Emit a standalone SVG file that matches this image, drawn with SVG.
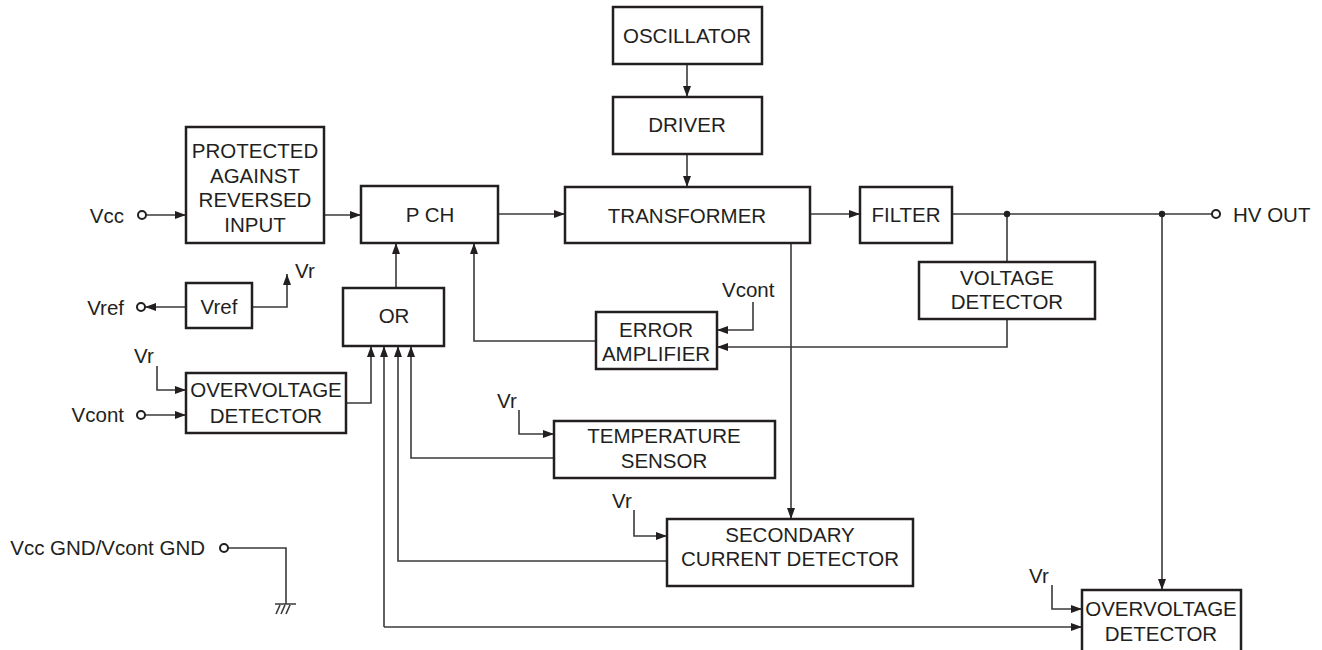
<svg xmlns="http://www.w3.org/2000/svg" width="1322" height="650" viewBox="0 0 1322 650">
<style>
.box{fill:#fff;stroke:#231f20;stroke-width:2.5}
.ln{fill:none;stroke:#3a3a3a;stroke-width:1.6}
.t{font-family:"Liberation Sans",Arial,Helvetica,sans-serif;font-size:20.5px;fill:#231f20}
.c{text-anchor:middle}
.e{text-anchor:end}
.term{fill:#fff;stroke:#231f20;stroke-width:2}
.dot{fill:#231f20}
</style>
<defs>
<marker id="ar" markerUnits="userSpaceOnUse" markerWidth="11" markerHeight="8" refX="11" refY="4" orient="auto">
<path d="M0,0 L11,4 L0,8 z" fill="#231f20"/>
</marker>
</defs>
<rect width="1322" height="650" fill="#fff"/>

<g id="connectors">
<path class="ln" d="M146,215 H186" marker-end="url(#ar)"/>
<path class="ln" d="M324,215 H361" marker-end="url(#ar)"/>
<path class="ln" d="M498,214 H565" marker-end="url(#ar)"/>
<path class="ln" d="M687,64 V97" marker-end="url(#ar)"/>
<path class="ln" d="M687,154 V187" marker-end="url(#ar)"/>
<path class="ln" d="M810,214 H860" marker-end="url(#ar)"/>
<path class="ln" d="M952,214 H1212"/>
<path class="ln" d="M1007,214 V262"/>
<path class="ln" d="M1007,319 V347 H717" marker-end="url(#ar)"/>
<path class="ln" d="M753,302 V330 H717" marker-end="url(#ar)"/>
<path class="ln" d="M596,341 H474 V243" marker-end="url(#ar)"/>
<path class="ln" d="M396,288 V243" marker-end="url(#ar)"/>
<path class="ln" d="M186,307 H145" marker-end="url(#ar)"/>
<path class="ln" d="M252,307 H287 V274" marker-end="url(#ar)"/>
<path class="ln" d="M157,366 V390 H186" marker-end="url(#ar)"/>
<path class="ln" d="M145,415 H186" marker-end="url(#ar)"/>
<path class="ln" d="M346,403 H371 V346" marker-end="url(#ar)"/>
<path class="ln" d="M519,410 V434 H554" marker-end="url(#ar)"/>
<path class="ln" d="M554,458 H411 V346" marker-end="url(#ar)"/>
<path class="ln" d="M634,510 V536 H667" marker-end="url(#ar)"/>
<path class="ln" d="M667,561 H398 V346" marker-end="url(#ar)"/>
<path class="ln" d="M791,243 V519" marker-end="url(#ar)"/>
<path class="ln" d="M1162,214 V590" marker-end="url(#ar)"/>
<path class="ln" d="M1052,585 V609 H1082" marker-end="url(#ar)"/>
<path class="ln" d="M384,627 H1082" marker-end="url(#ar)"/>
<path class="ln" d="M384,627 V346" marker-end="url(#ar)"/>
<path class="ln" d="M228,548 H286 V604"/>
<path class="ln" d="M275,604 H296 M280,605 L276,614 M285,605 L281,614 M290,605 L286,614"/>
<circle class="dot" cx="1007" cy="214" r="3.2"/>
<circle class="dot" cx="1162" cy="214" r="3.2"/>
</g>

<g id="terminals">
<circle class="term" cx="142" cy="215" r="4"/>
<circle class="term" cx="141" cy="307" r="4"/>
<circle class="term" cx="141" cy="415" r="4"/>
<circle class="term" cx="224" cy="548" r="4"/>
<circle class="term" cx="1216" cy="214" r="4"/>
<text class="t e" x="124" y="223">Vcc</text>
<text class="t e" x="124" y="315">Vref</text>
<text class="t e" x="124" y="422">Vcont</text>
<text class="t e" x="205" y="555">Vcc GND/Vcont GND</text>
<text class="t" x="1233" y="222">HV OUT</text>
<text class="t" x="295" y="278">Vr</text>
<text class="t" x="134" y="363">Vr</text>
<text class="t" x="497" y="408">Vr</text>
<text class="t" x="612" y="508">Vr</text>
<text class="t" x="1029" y="583">Vr</text>
<text class="t" x="722" y="297">Vcont</text>
</g>

<g id="protected">
<rect class="box" x="186" y="127" width="138" height="116"/>
<text class="t c" x="255" y="158">PROTECTED</text>
<text class="t c" x="255" y="183">AGAINST</text>
<text class="t c" x="255" y="207">REVERSED</text>
<text class="t c" x="255" y="232">INPUT</text>
</g>
<g id="pch">
<rect class="box" x="361" y="186" width="137" height="57"/>
<text class="t c" x="430" y="222">P CH</text>
</g>
<g id="oscillator">
<rect class="box" x="613" y="7" width="149" height="57"/>
<text class="t c" x="687" y="43">OSCILLATOR</text>
</g>
<g id="driver">
<rect class="box" x="613" y="97" width="149" height="57"/>
<text class="t c" x="687" y="132">DRIVER</text>
</g>
<g id="transformer">
<rect class="box" x="565" y="187" width="245" height="56"/>
<text class="t c" x="687" y="223">TRANSFORMER</text>
</g>
<g id="filter">
<rect class="box" x="860" y="187" width="92" height="56"/>
<text class="t c" x="906" y="222">FILTER</text>
</g>
<g id="voltage-detector">
<rect class="box" x="919" y="262" width="176" height="57"/>
<text class="t c" x="1007" y="285">VOLTAGE</text>
<text class="t c" x="1007" y="309">DETECTOR</text>
</g>
<g id="error-amplifier">
<rect class="box" x="596" y="312" width="121" height="57"/>
<text class="t c" x="656" y="337">ERROR</text>
<text class="t c" x="656" y="361">AMPLIFIER</text>
</g>
<g id="or">
<rect class="box" x="343" y="288" width="101" height="58"/>
<text class="t c" x="394" y="323">OR</text>
</g>
<g id="vref">
<rect class="box" x="186" y="283" width="66" height="45"/>
<text class="t c" x="219" y="314">Vref</text>
</g>
<g id="overvoltage-detector-1">
<rect class="box" x="186" y="373" width="160" height="60"/>
<text class="t c" x="266" y="397">OVERVOLTAGE</text>
<text class="t c" x="266" y="423">DETECTOR</text>
</g>
<g id="temperature-sensor">
<rect class="box" x="554" y="421" width="221" height="57"/>
<text class="t c" x="664" y="443">TEMPERATURE</text>
<text class="t c" x="664" y="468">SENSOR</text>
</g>
<g id="secondary-current-detector">
<rect class="box" x="667" y="519" width="246" height="67"/>
<text class="t c" x="790" y="542">SECONDARY</text>
<text class="t c" x="790" y="566">CURRENT DETECTOR</text>
</g>
<g id="overvoltage-detector-2">
<rect class="box" x="1082" y="590" width="159" height="64"/>
<text class="t c" x="1161" y="616">OVERVOLTAGE</text>
<text class="t c" x="1161" y="641">DETECTOR</text>
</g>
</svg>
